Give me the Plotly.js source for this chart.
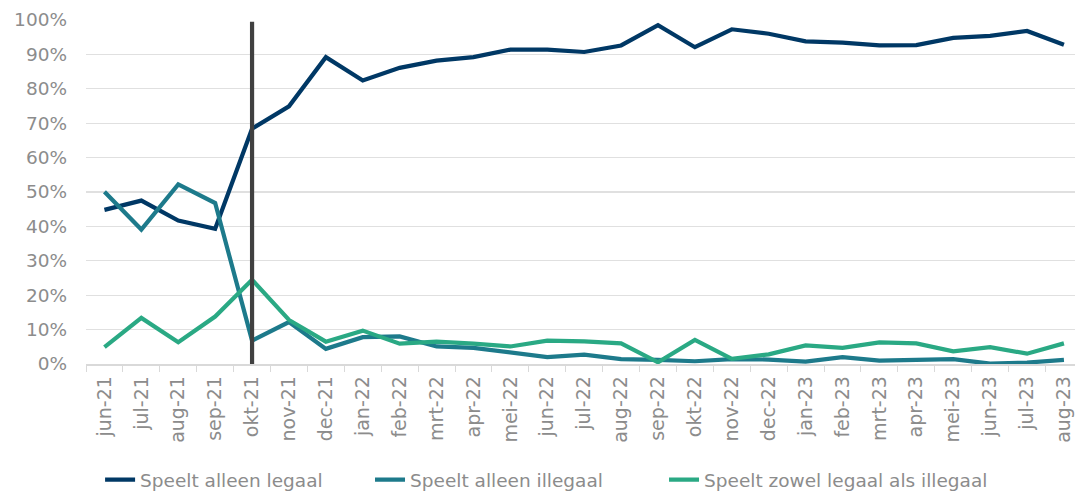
<!DOCTYPE html>
<html>
<head>
<meta charset="utf-8">
<script src="https://cdn.plot.ly/plotly-3.0.1.min.js"></script>
<style>html,body{margin:0;padding:0;background:#fff}#chart{width:1075px;height:492px}</style>
</head>
<body>
<div id="chart"></div>
<script>
const months = ["jun-21","jul-21","aug-21","sep-21","okt-21","nov-21","dec-21","jan-22","feb-22","mrt-22","apr-22","mei-22","jun-22","jul-22","aug-22","sep-22","okt-22","nov-22","dec-22","jan-23","feb-23","mrt-23","apr-23","mei-23","jun-23","jul-23","aug-23"];
const alleenLegaal = [44.8,47.5,41.7,39.3,68.4,74.9,89.2,82.4,86.1,88.2,89.2,91.4,91.4,90.7,92.6,98.5,92.1,97.3,96.0,93.8,93.4,92.6,92.7,94.8,95.4,96.8,92.8];
const alleenIllegaal = [50.1,39.1,52.2,46.8,6.8,12.2,4.4,7.8,8.0,5.1,4.7,3.4,2.0,2.7,1.4,1.2,0.8,1.4,1.3,0.7,2.0,1.0,1.2,1.4,0.1,0.4,1.2];
const zowel = [4.9,13.4,6.3,13.8,24.5,12.8,6.5,9.7,5.9,6.5,5.9,5.1,6.8,6.6,6.0,0.5,7.0,1.5,2.8,5.4,4.7,6.3,6.0,3.7,4.9,3.0,6.0];
const seriesNames = ["Speelt alleen legaal","Speelt alleen illegaal","Speelt zowel legaal als illegaal"];
const markerMonth = "okt-21";

const colors = ["#003865","#1d7a8b","#2aa984"];
const legendIds = ["legend","legend2","legend3"];
const legendX = [0.0931, 0.3442, 0.6177];
const font = {family:"DejaVu Sans, Verdana, sans-serif", size:18.5, color:"#8c8c8c"};
const xfont = {family:"DejaVu Sans, Verdana, sans-serif", size:19, color:"#8c8c8c"};
const data = [alleenLegaal, alleenIllegaal, zowel].map((v,i)=>({
  x: months, y: v, type:"scatter", mode:"lines", name: seriesNames[i],
  line:{color:colors[i], width:4.2}, hoverinfo:"skip", legend: legendIds[i]
}));
const layout = {
  width:1075, height:492,
  margin:{l:86, r:0, t:20, b:128},
  paper_bgcolor:"#fff", plot_bgcolor:"#fff",
  font: font,
  showlegend:true,
  xaxis:{type:"category", range:[-0.5,26.3], tickangle:-90, ticks:"outside", tickson:"boundaries", ticklen:6, tickcolor:"#d9d9d9", showline:true, linecolor:"#d9d9d9", linewidth:1.5, showgrid:false, tickfont:xfont, ticklabelstandoff:3, fixedrange:true},
  yaxis:{range:[0,100], dtick:10, ticksuffix:"%", showgrid:true, gridcolor:"#e0e0e0", gridwidth:1.3, zeroline:false, showline:false, ticks:"", ticklabelstandoff:18, tickfont:font, fixedrange:true},
  shapes:[{type:"line", xref:"x", yref:"y", x0:markerMonth, x1:markerMonth, y0:0, y1:99.5, line:{color:"#404040", width:4.2}, layer:"above"}]
};
legendIds.forEach((id,i)=>{
  layout[id] = {orientation:"h", xref:"container", yref:"container", x:legendX[i], xanchor:"left", y:0.024, yanchor:"middle", font:font, bgcolor:"rgba(0,0,0,0)"};
});
Plotly.newPlot("chart", data, layout, {staticPlot:true, displayModeBar:false});
</script>
</body>
</html>
